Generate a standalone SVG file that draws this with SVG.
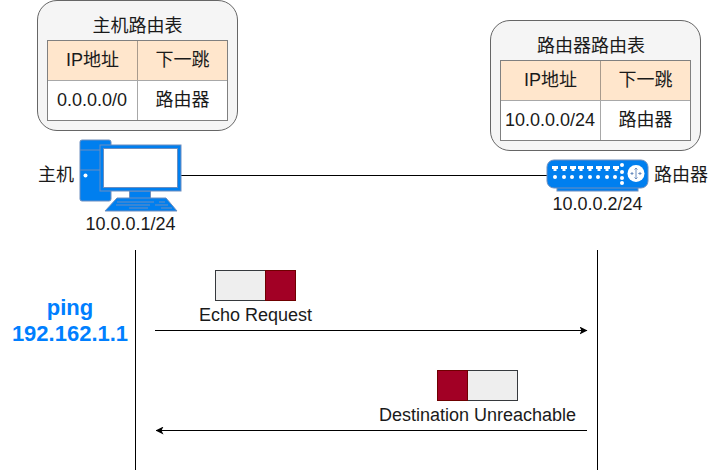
<svg xmlns="http://www.w3.org/2000/svg" width="709" height="472" viewBox="0 0 709 472">
<defs>
<style>
text{font-family:"Liberation Sans","Noto Sans CJK SC",sans-serif;font-size:18px;fill:#1a1a1a;text-anchor:middle}
.panel{fill:#f5f5f5;stroke:#666;stroke-width:1}
.hd{fill:#ffe6cc;stroke:#a89a8c;stroke-width:1}
.cell{fill:#fff;stroke:#a8a8a8;stroke-width:1}
.frame{fill:none;stroke:#808080;stroke-width:1}
.ln{stroke:#000;stroke-width:1;fill:none}
.gray{fill:#eeeeee;stroke:#36393d;stroke-width:1}
.red{fill:#a20025;stroke:#6f0000;stroke-width:1}
.blue{fill:#007fef;stroke:#6c8ebf;stroke-width:1}
.tk{stroke:#6c8ebf;stroke-width:1;fill:none}
</style>
<marker id="arr" markerUnits="userSpaceOnUse" viewBox="0 0 8 8" refX="7.5" refY="4" markerWidth="8" markerHeight="8" orient="auto-start-reverse"><path d="M0 0L8 4L0 8L2 4Z" fill="#000"/></marker>
</defs>
<g id="connectors">
<line class="ln" x1="181" y1="175.500" x2="547" y2="175.500"/>
<line class="ln" x1="135.500" y1="250" x2="135.500" y2="470"/>
<line class="ln" x1="597.500" y1="250" x2="597.500" y2="470"/>
<line class="ln" x1="155" y1="330.500" x2="587" y2="330.500" marker-end="url(#arr)"/>
<line class="ln" x1="587" y1="430.500" x2="156" y2="430.500" marker-end="url(#arr)"/>
</g>
<g id="host-table">
<rect class="panel" x="37.500" y="0.500" width="200" height="130" rx="19.500"/>
<text x="137.500" y="32">主机路由表</text>
<rect class="hd" x="47.500" y="40.500" width="90" height="40"/>
<rect class="hd" x="137.500" y="40.500" width="90" height="40"/>
<rect class="cell" x="47.500" y="80.500" width="90" height="40"/>
<rect class="cell" x="137.500" y="80.500" width="90" height="40"/>
<rect class="frame" x="47.500" y="40.500" width="180" height="80"/>
<text x="92.500" y="66">IP地址</text>
<text x="182.500" y="66">下一跳</text>
<text x="92" y="106">0.0.0.0/0</text>
<text x="182.500" y="106">路由器</text>
</g>
<g id="router-table">
<rect class="panel" x="490.500" y="20.500" width="210" height="130" rx="19.500"/>
<text x="591" y="52">路由器路由表</text>
<rect class="hd" x="500.500" y="60.500" width="100" height="40"/>
<rect class="hd" x="600.500" y="60.500" width="90" height="40"/>
<rect class="cell" x="500.500" y="100.500" width="100" height="40"/>
<rect class="cell" x="600.500" y="100.500" width="90" height="40"/>
<rect class="frame" x="500.500" y="60.500" width="190" height="80"/>
<text x="550.500" y="86">IP地址</text>
<text x="645.500" y="86">下一跳</text>
<text x="550" y="126">10.0.0.0/24</text>
<text x="645.500" y="126">路由器</text>
</g>
<g id="host">
<rect class="blue" x="80" y="140" width="31" height="61" rx="2"/>
<path class="tk" d="M80 150H111M80 170H111"/>
<circle cx="85.500" cy="175.500" r="2" fill="#fff"/>
<rect class="blue" x="129.500" y="191" width="21" height="8"/>
<path class="blue" d="M105 211L117 198H166L177 211Z"/>
<path class="tk" d="M117 202H154M159 202H165M116 205H150M155 205H168M129 208H148M161 208H172"/>
<rect x="100" y="145" width="81" height="46" fill="#007fef" stroke="#6c8ebf"/>
<rect x="103.500" y="148.500" width="74" height="39" fill="#fff" stroke="#6c8ebf"/>
<text x="56" y="181">主机</text>
<text x="130.500" y="230">10.0.0.1/24</text>
</g>
<g id="router">
<rect class="blue" x="557" y="186" width="81" height="5"/>
<rect class="blue" x="547" y="160" width="101" height="28" rx="7"/>
<path fill="#fff" d="M552 166h6v3h-1.500v2h-3v-2h-1.500zM561 166h6v3h-1.500v2h-3v-2h-1.500zM570 166h6v3h-1.500v2h-3v-2h-1.500zM578 166h6v3h-1.500v2h-3v-2h-1.500zM587 166h6v3h-1.500v2h-3v-2h-1.500zM596 166h6v3h-1.500v2h-3v-2h-1.500zM604 166h6v3h-1.500v2h-3v-2h-1.500zM613 166h6v3h-1.500v2h-3v-2h-1.500z"/>
<g fill="#fff"><circle cx="555" cy="177" r="2"/><circle cx="564" cy="177" r="2"/><circle cx="572" cy="177" r="2"/><circle cx="581" cy="177" r="2"/><circle cx="590" cy="177" r="2"/><circle cx="598" cy="177" r="2"/><circle cx="607" cy="177" r="2"/><circle cx="615" cy="177" r="2"/><circle cx="622" cy="165" r="2"/><circle cx="622" cy="172" r="2"/><circle cx="622" cy="178" r="2"/><circle cx="622" cy="183" r="2"/><circle cx="636" cy="173.500" r="8.500"/></g>
<path fill="none" stroke="#6c8ebf" stroke-width="1" d="M636 168V179M630.500 173.500H633M638.500 173.500H641.500M634.500 169.500L636 168L637.500 169.500M634.500 177.500L636 179L637.500 177.500M631.500 172L633 173.500L631.500 175M640.500 172L639 173.500L640.500 175"/>
<text x="681" y="181">路由器</text>
<text x="597.500" y="210">10.0.0.2/24</text>
</g>
<g id="ping">
<text x="70" y="315" style="font-size:22px;font-weight:700;fill:#007fff">ping</text>
<text x="70" y="341" style="font-size:22px;font-weight:700;fill:#007fff">192.162.1.1</text>
</g>
<g id="echo-request">
<rect class="gray" x="215.500" y="270.500" width="50" height="30"/>
<rect class="red" x="265.500" y="270.500" width="30" height="30"/>
<text x="255.500" y="321">Echo Request</text>
</g>
<g id="destination-unreachable">
<rect class="gray" x="467.500" y="370.500" width="50" height="30"/>
<rect class="red" x="437.500" y="370.500" width="30" height="30"/>
<text x="477.500" y="421">Destination Unreachable</text>
</g>
</svg>
